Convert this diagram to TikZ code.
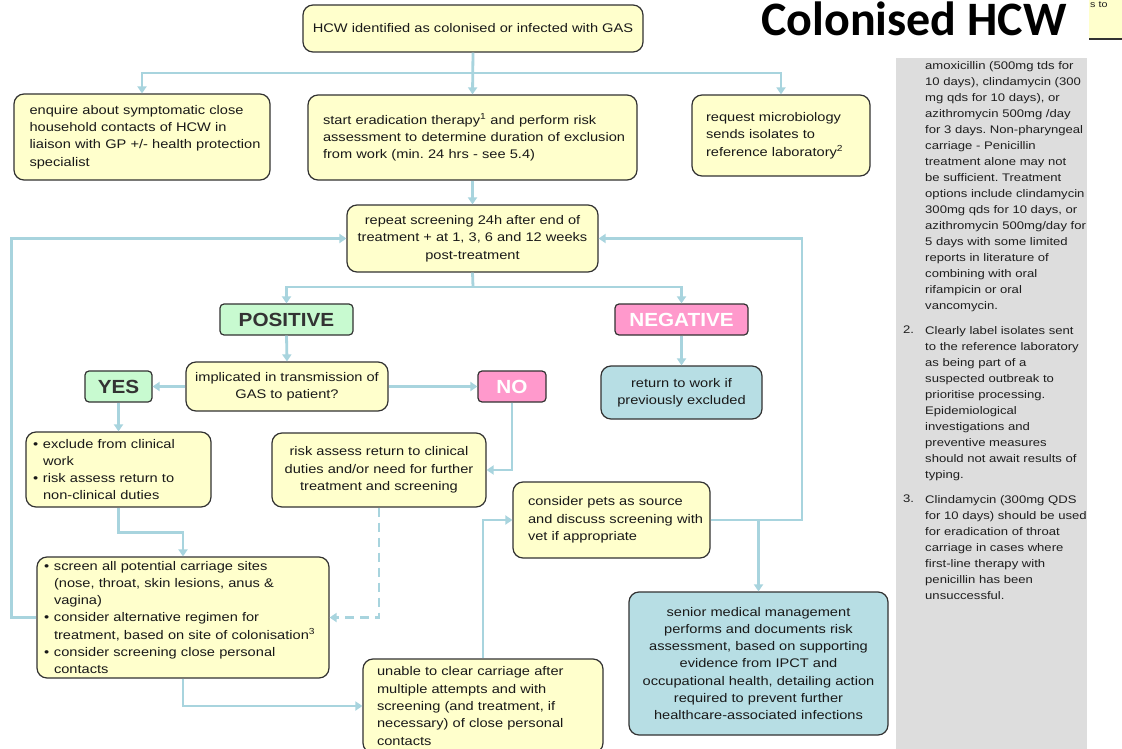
\documentclass[tikz,border=0pt]{standalone}
\usepackage{fontspec}
\setmainfont{Liberation Sans}
\newfontfamily\boxfont[FakeStretch=1.17]{Liberation Sans}
\newfontfamily\panelfont[FakeStretch=1.19]{Liberation Sans}
\newfontfamily\labfont[FakeStretch=1.09]{Liberation Sans}
\newfontfamily\titlefont{Carlito}
\usetikzlibrary{arrows.meta,calc}
\frenchspacing
\definecolor{yel}{RGB}{255,255,204}
\definecolor{grn}{RGB}{200,250,208}
\definecolor{pnk}{RGB}{255,153,204}
\definecolor{blu}{RGB}{183,222,228}
\definecolor{lineblue}{RGB}{168,212,222}
\definecolor{boxline}{RGB}{50,50,50}
\definecolor{panelgrey}{RGB}{221,221,221}
\definecolor{paneltext}{RGB}{30,30,30}
\newcommand\lline[1]{\mbox{#1}}
\newcommand\bul[1]{\mbox{\makebox[10pt][l]{\textbullet}#1}}
\newcommand\ind[1]{\mbox{\hspace*{10pt}#1}}
\tikzset{
  box/.style={draw=boxline, line width=1.2pt, rounded corners=10pt, fill=yel, inner sep=0pt,
    font=\boxfont\fontsize{12.5}{17.3}\selectfont, text=black!90, align=center},
  lab/.style={draw=boxline, line width=1.2pt, rounded corners=4pt, inner sep=0pt,
    font=\labfont\bfseries\fontsize{19}{20}\selectfont},
  conn/.style={draw=lineblue, line width=2.8pt},
  arr/.style={conn, -{Triangle[length=7pt,width=9pt]}},
  dconn/.style={arr, dash pattern=on 9pt off 6pt},
  paneltxt/.style={font=\panelfont\fontsize{11}{16}\selectfont, text=paneltext, align=left, inner sep=0pt, anchor=north west}
}
\begin{document}
\begin{tikzpicture}[x=1pt,y=-1pt]
\useasboundingbox (0,0) rectangle (1122,749);
\fill[white] (0,0) rectangle (1122,749);

% right grey panel
\begin{scope}
\clip (896,58) rectangle (1087,749);
\fill[panelgrey] (896,58) rectangle (1087,749);
\node[paneltxt] (p1) at (925,61) {amoxicillin (500mg tds for\\10 days), clindamycin (300\\mg qds for 10 days), or\\azithromycin 500mg /day\\for 3 days. Non-pharyngeal\\carriage - Penicillin\\treatment alone may not\\be sufficient. Treatment\\options include clindamycin\\300mg qds for 10 days, or\\azithromycin 500mg/day for\\5 days with some limited\\reports in literature of\\combining with oral\\rifampicin or oral\\vancomycin.};
\node[paneltxt] (n2) at (903,326) {2.};
\node[paneltxt] (p2) at (925,326) {Clearly label isolates sent\\to the reference laboratory\\as being part of a\\suspected outbreak to\\prioritise processing.\\Epidemiological\\investigations and\\preventive measures\\should not await results of\\typing.};
\node[paneltxt] (n3) at (903,495) {3.};
\node[paneltxt] (p3) at (925,495) {Clindamycin (300mg QDS\\for 10 days) should be used\\for eradication of throat\\carriage in cases where\\first-line therapy with\\penicillin has been\\unsuccessful.};
\end{scope}

% top-right corner fragment
\fill[yel] (1089,0) rectangle (1122,39);
\draw[boxline, line width=1.2pt] (1089,39) -- (1122,39);
\node[font=\panelfont\fontsize{9}{10}\selectfont, text=paneltext, anchor=north west, inner sep=0pt] (stxt) at (1090,1) {s to};

% title
\node[font=\titlefont\bfseries\fontsize{48}{50}\selectfont, anchor=base west, inner sep=0pt] (title) at (761,36) {Colonised HCW};

% boxes
\node[box, minimum width=340pt, minimum height=47pt] (top) at (473,28.5) {HCW identified as colonised or infected with GAS};
\node[box, minimum width=256pt, minimum height=86pt, text width=225pt, align=left] (enquire) at (142,137)
 {\lline{enquire about symptomatic close}\\\lline{household contacts of HCW in}\\\lline{liaison with GP +/- health protection}\\\lline{specialist}};
\node[box, minimum width=329pt, minimum height=85pt, text width=299pt, align=left] (start) at (472.5,137.5)
 {\lline{start eradication therapy\textsuperscript{1} and perform risk}\\\lline{assessment to determine duration of exclusion}\\\lline{from work (min. 24 hrs - see 5.4)}};
\node[box, minimum width=178pt, minimum height=81pt, text width=150pt, align=left] (request) at (781,135.5)
 {\lline{request microbiology}\\\lline{sends isolates to}\\\lline{reference laboratory\textsuperscript{2}}};
\node[box, minimum width=251pt, minimum height=67pt] (repeat) at (472.5,238.5)
 {repeat screening 24h after end of\\treatment + at 1, 3, 6 and 12 weeks\\post-treatment};
\node[lab, fill=grn, text=black!80, minimum width=133pt, minimum height=31pt] (positive) at (286.5,319.5) {POSITIVE};
\node[lab, fill=pnk, text=white, minimum width=133pt, minimum height=31pt] (negative) at (681.5,319.5) {NEGATIVE};
\node[box, minimum width=202pt, minimum height=49pt] (implicated) at (287,386.5)
 {implicated in transmission of\\GAS to patient?};
\node[lab, fill=grn, text=black!80, minimum width=67pt, minimum height=31pt] (yes) at (118.5,386.5) {YES};
\node[lab, fill=pnk, text=white, minimum width=68pt, minimum height=31pt] (no) at (512,386.5) {NO};
\node[box, fill=blu, minimum width=161pt, minimum height=53pt] (return) at (681.5,392.5)
 {return to work if\\previously excluded};
\node[box, minimum width=185pt, minimum height=75pt, text width=171pt, align=left] (exclude) at (118.5,469.5)
 {\bul{exclude from clinical}\\\ind{work}\\\bul{risk assess return to}\\\ind{non-clinical duties}};
\node[box, minimum width=214pt, minimum height=74pt] (risk) at (379,470)
 {risk assess return to clinical\\duties and/or need for further\\treatment and screening};
\node[box, minimum width=197pt, minimum height=76pt, text width=167pt, align=left] (pets) at (611.5,520)
 {\lline{consider pets as source}\\\lline{and discuss screening with}\\\lline{vet if appropriate}};
\node[box, minimum width=292pt, minimum height=121pt, text width=278pt, align=left] (screen) at (183,617.5)
 {\bul{screen all potential carriage sites}\\\ind{(nose, throat, skin lesions, anus \&}\\\ind{vagina)}\\\bul{consider alternative regimen for}\\\ind{treatment, based on site of colonisation\textsuperscript{3}}\\\bul{consider screening close personal}\\\ind{contacts}};
\node[box, fill=blu, minimum width=259pt, minimum height=143pt] (senior) at (758.5,663.5)
 {senior medical management\\performs and documents risk\\assessment, based on supporting\\evidence from IPCT and\\occupational health, detailing action\\required to prevent further\\healthcare-associated infections};
\node[box, minimum width=240pt, minimum height=94pt, text width=212pt, align=left] (unable) at (483,706)
 {\lline{unable to clear carriage after}\\\lline{multiple attempts and with}\\\lline{screening (and treatment, if}\\\lline{necessary) of close personal}\\\lline{contacts}};

% connectors
\coordinate (br1) at (473,73);
\coordinate (br2) at (473,287);
\coordinate (rloop) at (802,520);
\draw[arr] (top.south) -- (start.north);
\draw[arr] (br1) -| (enquire.north);
\draw[arr] (br1) -| (request.north);
\draw[arr] (start.south) -- (repeat.north);
\draw[conn] (repeat.south) -- (br2);
\draw[arr] (br2) -| (positive.north);
\draw[arr] (br2) -| (negative.north);
\draw[arr] (positive.south) -- (implicated.north);
\draw[arr] (implicated.west) -- (yes.east);
\draw[arr] (implicated.east) -- (no.west);
\draw[arr] (negative.south) -- (return.north);
\draw[arr] (yes.south) -- (exclude.north);
\draw[arr] (no.south) |- (risk.east);
\draw[dconn] (risk.south) |- (screen.east);
\draw[arr] (exclude.south) -- ++(0,25) -| (screen.north);
\draw[arr] (screen.west) -- ++(-25,0) |- (repeat.west);
\draw[arr] (screen.south) |- (unable.west);
\draw[arr] (unable.north) |- (pets.west);
\draw[arr] (pets.east) -- (rloop) |- (repeat.east);
\draw[arr] (pets.east -| senior.north) -- (senior.north);
\end{tikzpicture}
\end{document}
